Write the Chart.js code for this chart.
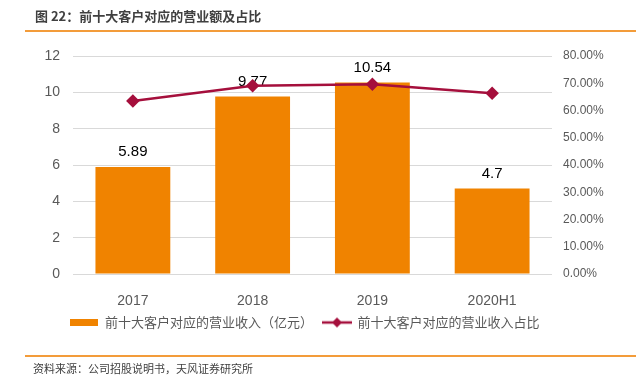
<!DOCTYPE html>
<html>
<head>
<meta charset="utf-8">
<script src="https://cdn.jsdelivr.net/npm/chart.js@4"></script>
<style>
    body { margin: 0; background: #fff; }
    #wrap { position: relative; width: 636px; height: 387px; }
    #wrap canvas { position: absolute; left: 0; top: 0; }
    .title { position: absolute; left: 35px; top: 6px; font: bold 13px 'Noto Sans CJK SC'; color: #404040; white-space: nowrap; }
    .source { position: absolute; left: 33px; top: 360px; font: 11px 'Noto Sans CJK SC'; color: #404040; white-space: nowrap; }
    .rule { position: absolute; left: 25px; width: 611px; height: 1.5px; background: #f39c3a; }
</style>
</head>
<body>
<div id="wrap">
    <canvas id="chart" width="636" height="387"></canvas>
    <div class="title">图 22：前十大客户对应的营业额及占比</div>
    <div class="rule" style="top:30px"></div>
    <div class="rule" style="top:355px"></div>
    <div class="source">资料来源：公司招股说明书，天风证券研究所</div>
</div>
<script>
const years = ['2017', '2018', '2019', '2020H1'];
const revenue = [5.89, 9.77, 10.54, 4.7];          // 亿元
const share = [63.5, 69.1, 69.6, 66.3];            // %
const revenueTicks = [0, 2, 4, 6, 8, 10, 12];
const shareTicks = [0, 10, 20, 30, 40, 50, 60, 70, 80];

const barColor = '#f08300';
const lineColor = '#a50f3c';

// 图例小图标
function barSwatch() {
    const c = document.createElement('canvas');
    c.width = 28; c.height = 7;
    const g = c.getContext('2d');
    g.fillStyle = barColor;
    g.fillRect(0, 0, 28, 7);
    return c;
}
function lineSwatch() {
    const c = document.createElement('canvas');
    c.width = 30; c.height = 12;
    const g = c.getContext('2d');
    g.strokeStyle = lineColor;
    g.lineWidth = 2.5;
    g.beginPath(); g.moveTo(0, 6); g.lineTo(30, 6); g.stroke();
    g.fillStyle = lineColor;
    g.beginPath(); g.moveTo(15, 1); g.lineTo(20, 6); g.lineTo(15, 11); g.lineTo(10, 6); g.closePath(); g.fill();
    return c;
}

// 柱顶数值
const barLabels = {
    id: 'barLabels',
    afterDatasetDraw(chart, args) {
        if (args.index !== 0) return;
        const ctx = chart.ctx;
        ctx.save();
        ctx.font = '15px "Liberation Sans"';
        ctx.fillStyle = '#000';
        ctx.textAlign = 'center';
        ctx.textBaseline = 'middle';
        args.meta.data.forEach((bar, i) => {
            ctx.fillText(String(revenue[i]), bar.x, bar.y - 15);
        });
        ctx.restore();
    }
};

const chart = new Chart(document.getElementById('chart').getContext('2d'), {
    data: {
        labels: years,
        datasets: [
            {
                type: 'bar',
                label: '前十大客户对应的营业收入（亿元）',
                data: revenue,
                backgroundColor: barColor,
                yAxisID: 'y',
                order: 2,
                categoryPercentage: 1,
                barPercentage: 0.625
            },
            {
                type: 'line',
                label: '前十大客户对应的营业收入占比',
                data: share,
                borderColor: lineColor,
                backgroundColor: lineColor,
                borderWidth: 2.5,
                pointStyle: 'rectRot',
                pointRadius: 5,
                pointBackgroundColor: lineColor,
                pointBorderColor: lineColor,
                yAxisID: 'y1',
                order: 1,
                fill: false
            }
        ]
    },
    options: {
        responsive: false,
        animation: false,
        devicePixelRatio: 1,
        layout: { padding: { top: 56, left: 0, right: 26, bottom: 48 } },
        plugins: {
            tooltip: { enabled: false },
            legend: {
                position: 'bottom',
                labels: {
                    usePointStyle: true,
                    pointStyleWidth: 28,
                    padding: 10,
                    color: '#595959',
                    font: { family: 'Noto Sans CJK SC', size: 13 },
                    generateLabels(ch) {
                        return ch.data.datasets.map((ds, i) => ({
                            text: ds.label,
                            datasetIndex: i,
                            pointStyle: i === 0 ? barSwatch() : lineSwatch(),
                            fillStyle: 'transparent',
                            strokeStyle: 'transparent',
                            lineWidth: 0,
                            fontColor: '#595959'
                        }));
                    }
                }
            }
        },
        scales: {
            x: {
                grid: { display: false },
                border: { display: false },
                ticks: { color: '#595959', font: { family: 'Liberation Sans', size: 14 }, padding: 11 },
                afterFit(s) { s.height = 32; }
            },
            y: {
                position: 'left',
                min: 0,
                max: 12,
                afterBuildTicks(s) { s.ticks = revenueTicks.map(v => ({ value: v })); },
                grid: { color: '#d9d9d9', drawTicks: false },
                border: { display: false },
                ticks: { color: '#595959', font: { family: 'Liberation Sans', size: 14 }, padding: 13 },
                afterFit(s) { s.width = 73; }
            },
            y1: {
                position: 'right',
                min: 0,
                max: 80,
                afterBuildTicks(s) { s.ticks = shareTicks.map(v => ({ value: v })); },
                grid: { display: false, drawTicks: false },
                border: { display: false },
                ticks: {
                    color: '#595959',
                    font: { family: 'Liberation Sans', size: 12 },
                    padding: 11,
                    callback: v => v.toFixed(2) + '%'
                },
                afterFit(s) { s.width = 58; }
            }
        }
    },
    plugins: [barLabels]
});
</script>
</body>
</html>
